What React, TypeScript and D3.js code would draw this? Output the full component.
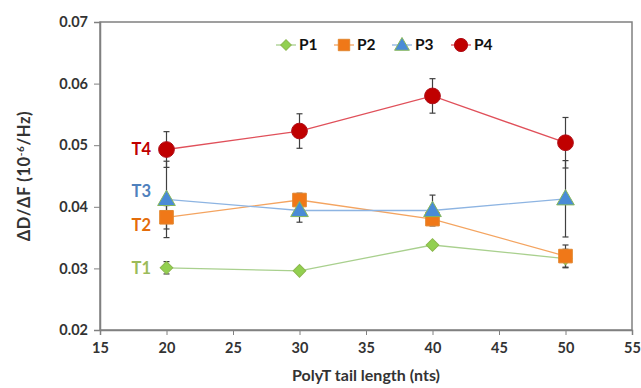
import React, { useEffect, useRef } from 'react';
import * as d3 from 'd3';

// tail lengths (nts)
const lengths = [20, 30, 40, 50];

// series values
const p1 = [0.0301, 0.0296, 0.0338, 0.0316];
const p2 = [0.0383, 0.0411, 0.0380, 0.0320];
const p3 = [0.0412, 0.0394, 0.0394, 0.0413];
const p4 = [0.0493, 0.0523, 0.0580, 0.0504];

// error bars (+/-)
const p1Err = [0.0010, 0.0004, 0.0005, 0.0015];
const p2Err = [0.0019, 0.0011, 0.0005, 0.0018];
const p3Err = [0.0062, 0.0019, 0.0025, 0.0062];
const p4Err = [0.0029, 0.0028, 0.0028, 0.0041];

const xTicks = [15, 20, 25, 30, 35, 40, 45, 50, 55];
const yTicks = [0.02, 0.03, 0.04, 0.05, 0.06, 0.07];

const seriesNames = ['P1', 'P2', 'P3', 'P4'];
const sideLabels = ['T1', 'T2', 'T3', 'T4'];

const FONT = 'Lato, "Open Sans", sans-serif';

export default function App() {
  const ref = useRef<SVGSVGElement>(null);

  useEffect(() => {
    document.body.style.margin = '0';
    document.body.style.overflow = 'hidden';
    const width = 641, height = 388;
    const margin = { top: 22, right: 9, bottom: 58, left: 100 };
    const svg = d3.select(ref.current);
    svg.selectAll('*').remove();

    const x = d3.scaleLinear().domain([15, 55]).range([margin.left, width - margin.right]);
    const y = d3.scaleLinear().domain([0.02, 0.07]).range([height - margin.bottom, margin.top]);

    const series = [
      { name: seriesNames[0], vals: p1, err: p1Err, line: '#A9D08E', fill: '#92D050', stroke: '#8DB84E', shape: d3.symbolSquare, rot: 45, size: 80, label: sideLabels[0], lc: '#9BBB59' },
      { name: seriesNames[1], vals: p2, err: p2Err, line: '#F4A460', fill: '#F07818', stroke: '#E2862E', shape: d3.symbolSquare, rot: 0, size: 185, label: sideLabels[1], lc: '#E46C0A' },
      { name: seriesNames[2], vals: p3, err: p3Err, line: '#8DB4E2', fill: '#4A8BD6', stroke: '#86B85A', shape: d3.symbolTriangle, rot: 0, size: 135, label: sideLabels[2], lc: '#4F81BD' },
      { name: seriesNames[3], vals: p4, err: p4Err, line: '#E0505A', fill: '#C00000', stroke: '#B0101A', shape: d3.symbolCircle, rot: 0, size: 195, label: sideLabels[3], lc: '#C00000' },
    ];

    // plot frame
    svg.append('rect')
      .attr('x', x(15)).attr('y', y(0.07))
      .attr('width', x(55) - x(15)).attr('height', y(0.02) - y(0.07))
      .attr('fill', 'none').attr('stroke', '#808080').attr('stroke-width', 1.5);

    // y axis
    const yAxis = svg.append('g')
      .attr('transform', `translate(${x(15)},0)`)
      .call(d3.axisLeft(y).tickValues(yTicks).tickFormat(d3.format('.2f')).tickSize(6).tickPadding(6));
    yAxis.select('.domain').attr('stroke', '#808080').attr('stroke-width', 1.5);
    yAxis.selectAll('line').attr('stroke', '#808080');
    yAxis.selectAll('text').attr('font-family', FONT).attr('font-weight', 'bold').attr('font-size', 14.5).attr('fill', '#333');

    // x axis
    const xAxis = svg.append('g')
      .attr('transform', `translate(0,${y(0.02)})`)
      .call(d3.axisBottom(x).tickValues(xTicks).tickFormat(d3.format('d')).tickSize(5).tickPadding(8));
    xAxis.select('.domain').attr('stroke', '#808080').attr('stroke-width', 1.5);
    xAxis.selectAll('line').attr('stroke', '#808080');
    xAxis.selectAll('text').attr('font-family', FONT).attr('font-weight', 'bold').attr('font-size', 14.5).attr('fill', '#333');

    // axis titles
    svg.append('text')
      .attr('x', (x(15) + x(55)) / 2).attr('y', 381)
      .attr('text-anchor', 'middle')
      .attr('font-family', FONT).attr('font-weight', 'bold').attr('font-size', 16).attr('fill', '#333')
      .text('PolyT tail length (nts)');

    const yt = svg.append('text')
      .attr('transform', `translate(30,${(y(0.02) + y(0.07)) / 2}) rotate(-90)`)
      .attr('text-anchor', 'middle')
      .attr('font-family', FONT).attr('font-weight', 'bold').attr('font-size', 16.5).attr('fill', '#333')
      .attr('letter-spacing', 0.6);
    yt.append('tspan').text('ΔD/ΔF  (10');
    yt.append('tspan').attr('dy', -6).attr('font-size', 10).text('-6');
    yt.append('tspan').attr('dy', 6).text('/Hz)');

    // lines
    const line = d3.line<number>().x((_, i) => x(lengths[i])).y(d => y(d));
    series.forEach(s => {
      svg.append('path').datum(s.vals)
        .attr('d', line).attr('fill', 'none').attr('stroke', s.line).attr('stroke-width', 1.3);
    });

    // error bars
    series.forEach(s => {
      const g = svg.append('g');
      s.vals.forEach((v, i) => {
        const cx = x(lengths[i]);
        g.append('line').attr('x1', cx).attr('x2', cx)
          .attr('y1', y(v - s.err[i])).attr('y2', y(v + s.err[i]))
          .attr('stroke', '#404040').attr('stroke-width', 1.2);
        [v - s.err[i], v + s.err[i]].forEach(e => {
          g.append('line').attr('x1', cx - 3).attr('x2', cx + 3)
            .attr('y1', y(e)).attr('y2', y(e))
            .attr('stroke', '#404040').attr('stroke-width', 1.2);
        });
      });
    });

    // markers
    series.forEach(s => {
      svg.append('g').selectAll('path').data(s.vals).enter().append('path')
        .attr('d', d3.symbol().type(s.shape).size(s.size)())
        .attr('transform', (d, i) => `translate(${x(lengths[i])},${y(d) + (s.shape === d3.symbolTriangle ? 1 : 0)}) rotate(${s.rot})`)
        .attr('fill', s.fill).attr('stroke', s.stroke).attr('stroke-width', 1);
    });

    // side labels T1..T4 next to the first point
    const labelY = [0.0300, 0.0370, 0.0425, 0.0493];
    series.forEach((s, i) => {
      svg.append('text')
        .attr('x', 151).attr('y', y(labelY[i]))
        .attr('dy', '0.35em').attr('text-anchor', 'end')
        .attr('font-family', FONT).attr('font-weight', 'bold').attr('font-size', 16.5)
        .attr('fill', s.lc).text(s.label);
    });

    // legend
    const legendX = [276, 334, 392, 451];
    series.forEach((s, i) => {
      const g = svg.append('g').attr('transform', `translate(${legendX[i]},45)`);
      g.append('line').attr('x1', 0).attr('x2', 20).attr('y1', 0).attr('y2', 0)
        .attr('stroke', s.line).attr('stroke-width', 1.3);
      g.append('path').attr('d', d3.symbol().type(s.shape).size(s.size * 0.7)())
        .attr('transform', `translate(10,${s.shape === d3.symbolTriangle ? 1 : 0}) rotate(${s.rot})`)
        .attr('fill', s.fill).attr('stroke', s.stroke);
      g.append('text').attr('x', 23).attr('dy', '0.35em')
        .attr('font-family', FONT).attr('font-weight', 'bold').attr('font-size', 15.5).attr('fill', '#111')
        .text(s.name);
    });
  }, []);

  return (
    <svg ref={ref} width={641} height={388} style={{ display: 'block', background: '#fff' }} />
  );
}
